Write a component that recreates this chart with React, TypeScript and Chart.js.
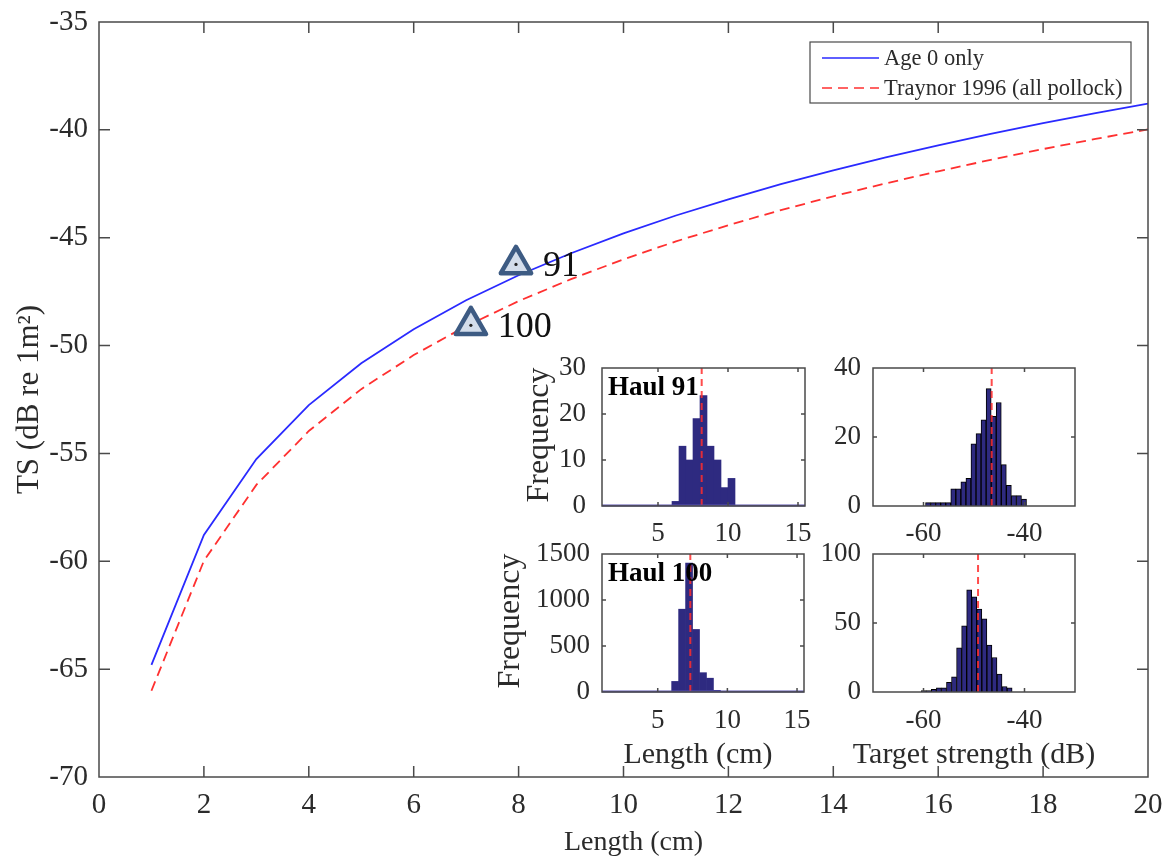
import React, { useEffect, useRef } from 'react';
import { Chart, registerables } from 'chart.js';

Chart.register(...registerables);
Chart.defaults.font.family = '"Liberation Serif", "Times New Roman", serif';

// ---------- main chart data ----------
const lengthCm = [1, 2, 3, 4, 5, 6, 7, 8, 9, 10, 11, 12, 13, 14, 15, 16, 17, 18, 19, 20];
const tsAge0 = [-64.8, -58.78, -55.26, -52.76, -50.82, -49.24, -47.9, -46.74, -45.72, -44.8, -43.97, -43.22, -42.52, -41.88, -41.28, -40.72, -40.19, -39.69, -39.22, -38.78];
const tsTraynor = [-66.0, -59.98, -56.46, -53.96, -52.02, -50.44, -49.1, -47.94, -46.92, -46.0, -45.17, -44.42, -43.72, -43.08, -42.48, -41.92, -41.39, -40.89, -40.42, -39.98];
const seriesNames = ['Age 0 only', 'Traynor 1996 (all pollock)'];
const mainXTicks = [0, 2, 4, 6, 8, 10, 12, 14, 16, 18, 20];
const mainYTicks = [-70, -65, -60, -55, -50, -45, -40, -35];
const haulIds = ['91', '100'];
const haulMeanLength = [7.95, 7.09];
const haulMeanTS = [-46.24, -49.06];

// ---------- inset data ----------
const lengthTicks = [5, 10, 15];
const tsTicks = [-60, -40];
const haul91LenBins = [6.25, 6.75, 7.25, 7.75, 8.25, 8.75, 9.25, 9.75, 10.25];
const haul91LenCounts = [1, 13, 10, 19, 24, 13, 10, 4, 6];
const haul91LenMean = 8.12;
const haul91LenYTicks = [0, 10, 20, 30];
const haul91TSBins = [-59.1, -58.1, -57.1, -56.1, -55.1, -54.1, -53.1, -52.1, -51.1, -50.1, -49.1, -48.1, -47.1, -46.1, -45.1, -44.1, -43.1, -42.1, -41.1, -40.1];
const haul91TSCounts = [1, 1, 1, 1, 1, 5, 5, 7, 8, 18, 21, 25, 34, 26, 30, 12, 6, 3, 3, 2];
const haul91TSMean = -46.5;
const haul91TSYTicks = [0, 20, 40];
const haul100LenBins = [6.25, 6.75, 7.25, 7.75, 8.25, 8.75, 9.25];
const haul100LenCounts = [115, 900, 1400, 680, 210, 150, 18];
const haul100LenMean = 7.34;
const haul100LenYTicks = [0, 500, 1000, 1500];
const haul100TSBins = [-59.95, -58.95, -57.95, -56.95, -55.95, -54.95, -53.95, -52.95, -51.95, -50.95, -49.95, -48.95, -47.95, -46.95, -45.95, -44.95, -43.95, -42.95];
const haul100TSCounts = [1, 1, 2, 3, 3, 7, 11, 32, 48, 74, 69, 60, 53, 34, 25, 13, 4, 3];
const haul100TSMean = -49.2;
const haul100TSYTicks = [0, 50, 100];

const TEXT = '#2b2b2b';
const FRAME = '#4a4a4a';
const SERIF = '"Liberation Serif", "Times New Roman", serif';

// ---------- plugins ----------
const framePlugin = {
  id: 'frame',
  afterDatasetsDraw(chart: any, _args: any, opts: any) {
    const { ctx, chartArea: a, scales } = chart;
    ctx.save();
    if (opts.baseline) {
      ctx.strokeStyle = opts.baseline;
      ctx.lineWidth = 2;
      ctx.beginPath();
      ctx.moveTo(a.left, a.bottom - 0.5);
      ctx.lineTo(a.right, a.bottom - 0.5);
      ctx.stroke();
    }
    ctx.strokeStyle = opts.color;
    ctx.lineWidth = opts.width;
    ctx.strokeRect(a.left, a.top, a.right - a.left, a.bottom - a.top);
    const L = opts.tickLen;
    ctx.beginPath();
    scales.x.ticks.forEach((t: any) => {
      const p = scales.x.getPixelForValue(t.value);
      if (p <= a.left + 1 || p >= a.right - 1) return;
      ctx.moveTo(p, a.bottom);
      ctx.lineTo(p, a.bottom - L);
      ctx.moveTo(p, a.top);
      ctx.lineTo(p, a.top + L);
    });
    scales.y.ticks.forEach((t: any) => {
      const p = scales.y.getPixelForValue(t.value);
      if (p <= a.top + 1 || p >= a.bottom - 1) return;
      ctx.moveTo(a.left, p);
      ctx.lineTo(a.left + L, p);
      ctx.moveTo(a.right, p);
      ctx.lineTo(a.right - L, p);
    });
    ctx.stroke();
    ctx.restore();
  },
};

const titlesPlugin = {
  id: 'titles',
  afterDraw(chart: any, _args: any, opts: any) {
    const { ctx, chartArea: a } = chart;
    ctx.save();
    ctx.fillStyle = TEXT;
    ctx.textAlign = 'center';
    ctx.textBaseline = 'middle';
    if (opts.x) {
      ctx.font = `${opts.x.size}px ${SERIF}`;
      ctx.fillText(opts.x.text, (a.left + a.right) / 2 + opts.x.dx, a.bottom + opts.x.offset);
    }
    if (opts.y) {
      ctx.font = `${opts.y.size}px ${SERIF}`;
      ctx.translate(a.left - opts.y.offset, (a.top + a.bottom) / 2 + opts.y.dy);
      ctx.rotate(-Math.PI / 2);
      ctx.fillText(opts.y.text, 0, 0);
    }
    ctx.restore();
  },
};

const boxLegendPlugin = {
  id: 'boxLegend',
  afterDatasetsDraw(chart: any, _args: any, opts: any) {
    const { ctx, chartArea: a } = chart;
    const x1 = a.right - 17;
    const x0 = x1 - opts.width;
    const y0 = a.top + 20;
    const h = opts.rowHeight * 2 + 1;
    ctx.save();
    ctx.fillStyle = '#fff';
    ctx.fillRect(x0, y0, x1 - x0, h);
    ctx.strokeStyle = FRAME;
    ctx.lineWidth = 1.2;
    ctx.strokeRect(x0, y0, x1 - x0, h);
    ctx.font = `${opts.fontSize}px ${SERIF}`;
    ctx.textBaseline = 'middle';
    ctx.fillStyle = TEXT;
    [0, 1].forEach((k) => {
      const ds = chart.data.datasets[k];
      const yy = y0 + 1 + opts.rowHeight * (k + 0.5);
      ctx.strokeStyle = ds.borderColor;
      ctx.lineWidth = 1.6;
      ctx.setLineDash(ds.borderDash || []);
      ctx.beginPath();
      ctx.moveTo(x0 + 12, yy);
      ctx.lineTo(x0 + 69, yy);
      ctx.stroke();
      ctx.setLineDash([]);
      ctx.fillText(ds.label, x0 + 74, yy + 1);
    });
    ctx.restore();
  },
};

const pointLabelPlugin = {
  id: 'pointLabels',
  beforeDatasetDraw(chart: any, args: any) {
    if (args.index === 2) chart.ctx.lineJoin = 'round';
  },
  afterDatasetDraw(chart: any, args: any) {
    if (args.index === 2) chart.ctx.lineJoin = 'miter';
  },
  afterDatasetsDraw(chart: any, _args: any, opts: any) {
    const { ctx } = chart;
    const meta = chart.getDatasetMeta(opts.datasetIndex);
    ctx.save();
    ctx.font = `${opts.fontSize}px ${SERIF}`;
    ctx.fillStyle = '#111';
    ctx.textBaseline = 'middle';
    meta.data.forEach((pt: any, i: number) => {
      ctx.fillText(opts.labels[i], pt.x + 27, pt.y + 2);
    });
    ctx.restore();
  },
};

const haulLabelPlugin = {
  id: 'haulLabel',
  afterDatasetsDraw(chart: any, _args: any, opts: any) {
    if (!opts.text) return;
    const { ctx, chartArea: a } = chart;
    ctx.save();
    ctx.font = `bold 27px ${SERIF}`;
    ctx.fillStyle = '#000';
    ctx.textBaseline = 'alphabetic';
    ctx.fillText(opts.text, a.left + 6, a.top + 27);
    ctx.restore();
  },
};

const setTicks = (vals: number[]) => (s: any) => {
  s.ticks = vals.map((v) => ({ value: v }));
};
const fitX = (h: number) => (s: any) => {
  s.height = h;
  s.paddingLeft = 0;
  s.paddingRight = 0;
};
const fitY = (w: number) => (s: any) => {
  s.width = w;
  s.paddingTop = 0;
  s.paddingBottom = 0;
};
const noGrid = { display: false, drawTicks: false, tickLength: 0 };

function mainConfig(): any {
  return {
    type: 'line',
    data: {
      datasets: [
        {
          label: seriesNames[0],
          data: lengthCm.map((x, i) => ({ x, y: tsAge0[i] })),
          borderColor: '#2a2aff',
          borderWidth: 1.8,
          pointRadius: 0,
          order: 2,
        },
        {
          label: seriesNames[1],
          data: lengthCm.map((x, i) => ({ x, y: tsTraynor[i] })),
          borderColor: '#ff3030',
          borderDash: [10, 6],
          borderWidth: 1.8,
          pointRadius: 0,
          order: 3,
        },
        {
          label: 'haul',
          data: haulMeanLength.map((x, i) => ({ x, y: haulMeanTS[i] })),
          showLine: false,
          pointStyle: 'triangle',
          pointRadius: 17.5,
          pointBorderWidth: 4.5,
          pointBorderColor: '#3d5b83',
          pointBackgroundColor: '#d3ddeb',
          clip: false,
          order: 1,
        },
        {
          label: 'haulDot',
          data: haulMeanLength.map((x, i) => ({ x, y: haulMeanTS[i] })),
          showLine: false,
          pointStyle: 'circle',
          pointRadius: 1.6,
          pointBorderWidth: 0,
          pointBackgroundColor: '#222',
          clip: false,
          order: 0,
        },
      ],
    },
    options: {
      animation: false,
      responsive: false,
      events: [],
      layout: { padding: { top: 17, right: 22, left: 0, bottom: 0 } },
      plugins: {
        legend: { display: false },
        tooltip: { enabled: false },
        frame: { color: FRAME, width: 1.5, tickLen: 11 },
        boxLegend: { width: 321, rowHeight: 30, fontSize: 22.5 },
        pointLabels: { datasetIndex: 2, labels: haulIds, fontSize: 36 },
        titles: { x: { text: 'Length (cm)', size: 28, dx: 10, offset: 66 } },
      },
      scales: {
        x: {
          type: 'linear',
          min: 0,
          max: 20,
          afterBuildTicks: setTicks(mainXTicks),
          afterFit: fitX(82),
          grid: noGrid,
          border: { display: false },
          ticks: { padding: 11, color: TEXT, font: { size: 29 }, maxRotation: 0, autoSkip: false, callback: (v: any) => String(v) },
        },
        y: {
          type: 'linear',
          min: -70,
          max: -35,
          afterBuildTicks: setTicks(mainYTicks),
          afterFit: fitY(99),
          grid: noGrid,
          border: { display: false },
          ticks: { padding: 11, color: TEXT, font: { size: 29 }, autoSkip: false, callback: (v: any) => String(v) },
          title: { display: true, text: 'TS (dB re 1m²)', color: TEXT, font: { size: 31 }, padding: { top: 11, bottom: 0 } },
        },
      },
    },
    plugins: [framePlugin, boxLegendPlugin, pointLabelPlugin, titlesPlugin],
  };
}

type Inset = {
  left: number;
  top: number;
  width: number;
  height: number;
  yWidth: number;
  xHeight: number;
  padTop: number;
  padRight: number;
  yTickPad: number;
  xTickPad: number;
  bins: number[];
  counts: number[];
  mean: number;
  xMin: number;
  xMax: number;
  yMax: number;
  xTicks: number[];
  yTicks: number[];
  edge: string;
  baseline?: string;
  haul?: string;
  yTitle?: string;
  yTitleOffset?: number;
  xTitle?: string;
  xTitleDx?: number;
};

const insets: Inset[] = [
  {
    left: 510, top: 350, width: 305, height: 200, yWidth: 92, xHeight: 44, padTop: 18, padRight: 10, yTickPad: 16, xTickPad: 12,
    bins: haul91LenBins, counts: haul91LenCounts, mean: haul91LenMean, xMin: 1, xMax: 15.5, yMax: 30,
    xTicks: lengthTicks, yTicks: haul91LenYTicks, edge: '#2e2a80', baseline: '#5a52b0', haul: 'Haul 91', yTitle: 'Frequency', yTitleOffset: 62,
  },
  {
    left: 800, top: 350, width: 290, height: 200, yWidth: 73, xHeight: 44, padTop: 18, padRight: 15, yTickPad: 12, xTickPad: 12,
    bins: haul91TSBins, counts: haul91TSCounts, mean: haul91TSMean, xMin: -70, xMax: -30, yMax: 40,
    xTicks: tsTicks, yTicks: haul91TSYTicks, edge: '#000',
  },
  {
    left: 480, top: 536, width: 335, height: 244, yWidth: 122, xHeight: 88, padTop: 18, padRight: 11, yTickPad: 12, xTickPad: 13,
    bins: haul100LenBins, counts: haul100LenCounts, mean: haul100LenMean, xMin: 1, xMax: 15.5, yMax: 1500,
    xTicks: lengthTicks, yTicks: haul100LenYTicks, edge: '#2e2a80', baseline: '#5a52b0', haul: 'Haul 100', yTitle: 'Frequency', yTitleOffset: 91,
    xTitle: 'Length (cm)', xTitleDx: -5,
  },
  {
    left: 800, top: 536, width: 310, height: 244, yWidth: 73, xHeight: 88, padTop: 18, padRight: 35, yTickPad: 12, xTickPad: 13,
    bins: haul100TSBins, counts: haul100TSCounts, mean: haul100TSMean, xMin: -70, xMax: -30, yMax: 100,
    xTicks: tsTicks, yTicks: haul100TSYTicks, edge: '#000', xTitle: 'Target strength (dB)', xTitleDx: 0,
  },
];

function insetConfig(o: Inset): any {
  return {
    type: 'bar',
    data: {
      datasets: [
        {
          type: 'line',
          data: [
            { x: o.mean, y: 0 },
            { x: o.mean, y: o.yMax },
          ],
          borderColor: 'rgba(255,45,45,0.85)',
          borderDash: [7, 5],
          borderWidth: 2,
          pointRadius: 0,
          order: 0,
        },
        {
          type: 'bar',
          data: o.bins.map((x, i) => ({ x, y: o.counts[i] })),
          backgroundColor: '#2e2a80',
          borderColor: o.edge,
          borderWidth: o.edge === '#000' ? 1 : 0,
          barPercentage: 1,
          categoryPercentage: 1,
          order: 1,
        },
      ],
    },
    options: {
      animation: false,
      responsive: false,
      events: [],
      layout: { padding: { top: o.padTop, right: o.padRight, left: 0, bottom: 0 } },
      plugins: {
        legend: { display: false },
        tooltip: { enabled: false },
        frame: { color: FRAME, width: 1.5, tickLen: 4, baseline: o.baseline },
        haulLabel: { text: o.haul },
        titles: {
          x: o.xTitle ? { text: o.xTitle, size: 30, dx: o.xTitleDx || 0, offset: 63 } : undefined,
          y: o.yTitle ? { text: o.yTitle, size: 32, dy: -2, offset: o.yTitleOffset } : undefined,
        },
      },
      scales: {
        x: {
          type: 'linear',
          offset: false,
          min: o.xMin,
          max: o.xMax,
          afterBuildTicks: setTicks(o.xTicks),
          afterFit: fitX(o.xHeight),
          grid: noGrid,
          border: { display: false },
          ticks: { padding: o.xTickPad, color: TEXT, font: { size: 27 }, maxRotation: 0, autoSkip: false, callback: (v: any) => String(v) },
        },
        y: {
          type: 'linear',
          min: 0,
          max: o.yMax,
          afterBuildTicks: setTicks(o.yTicks),
          afterFit: fitY(o.yWidth),
          grid: noGrid,
          border: { display: false },
          ticks: { padding: o.yTickPad, color: TEXT, font: { size: 27 }, autoSkip: false, callback: (v: any) => String(v) },
        },
      },
    },
    plugins: [framePlugin, haulLabelPlugin, titlesPlugin],
  };
}

export default function App() {
  const mainRef = useRef<HTMLCanvasElement | null>(null);
  const insetRefs = useRef<(HTMLCanvasElement | null)[]>([]);

  useEffect(() => {
    document.body.style.margin = '0';
    const charts: Chart[] = [];
    if (mainRef.current) charts.push(new Chart(mainRef.current, mainConfig()));
    insets.forEach((spec, k) => {
      const c = insetRefs.current[k];
      if (c) charts.push(new Chart(c, insetConfig(spec)));
    });
    return () => charts.forEach((c) => c.destroy());
  }, []);

  return (
    <div style={{ position: 'relative', width: 1170, height: 859, background: '#fff', overflow: 'hidden' }}>
      <canvas ref={mainRef} width={1170} height={859} style={{ position: 'absolute', left: 0, top: 0 }} />
      {insets.map((s, k) => (
        <canvas
          key={k}
          ref={(el) => {
            insetRefs.current[k] = el;
          }}
          width={s.width}
          height={s.height}
          style={{ position: 'absolute', left: s.left, top: s.top }}
        />
      ))}
    </div>
  );
}
